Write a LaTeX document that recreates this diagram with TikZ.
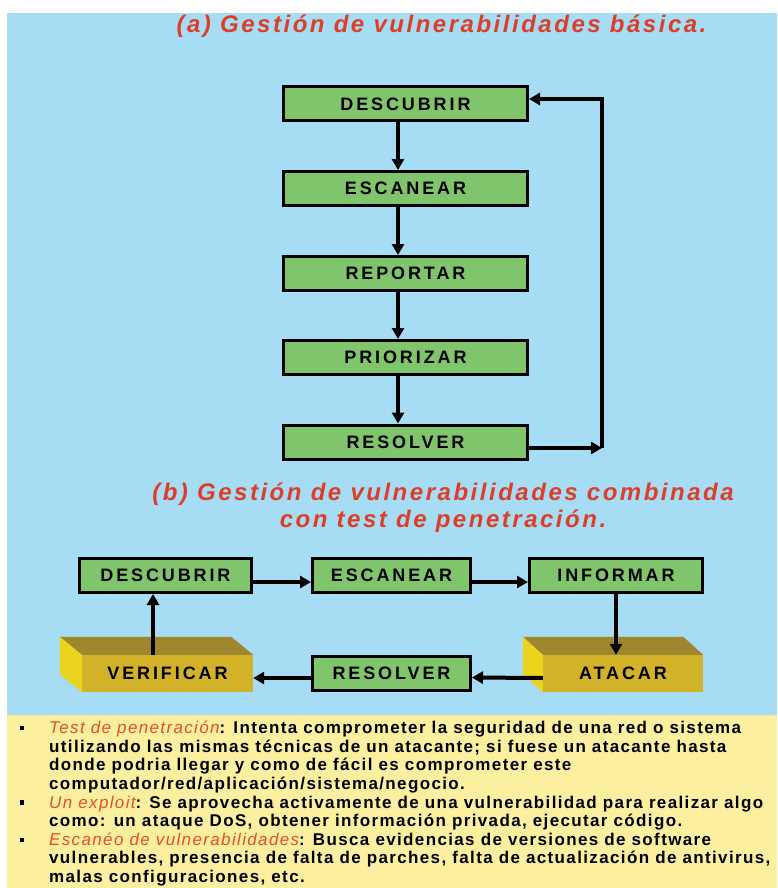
\documentclass[tikz,border=0pt]{standalone}
\usepackage{fontspec}
\setmainfont{Liberation Sans}
\usetikzlibrary{arrows.meta}
\definecolor{bgblue}{RGB}{166,220,244}
\definecolor{bgyellow}{RGB}{252,240,160}
\definecolor{boxgreen}{RGB}{128,196,108}
\definecolor{titlered}{RGB}{220,62,40}
\definecolor{notered}{RGB}{232,78,36}
\definecolor{goldfront}{RGB}{210,178,40}
\definecolor{goldtop}{RGB}{160,135,45}
\definecolor{goldleft}{RGB}{234,212,30}
\tikzset{
  gbox/.style={draw=black, line width=3pt, fill=boxgreen, minimum height=34pt, inner sep=0pt,
    font=\fontsize{18}{20}\selectfont\bfseries\addfontfeature{LetterSpace=16}},
  blockfront/.style={fill=goldfront, minimum height=37pt, inner sep=0pt,
    font=\fontsize{18}{20}\selectfont\bfseries\addfontfeature{LetterSpace=16}},
  arr/.style={line width=4pt, -{Triangle[length=11pt,width=12pt]}},
  ttl/.style={text=titlered, font=\fontsize{24}{27}\selectfont\bfseries\itshape\addfontfeature{LetterSpace=10.5}, align=center},
  bul/.style={fill=black, minimum size=4.5pt, inner sep=0pt}
}
\begin{document}
\begin{tikzpicture}[x=1pt,y=-1pt]
\useasboundingbox (0,0) rectangle (777,888);
\fill[white] (0,0) rectangle (777,888);
\fill[bgblue] (7,13) rectangle (777,715);
\fill[bgyellow] (7,715) rectangle (777,888);

% (a)
\node[ttl] (ta) at (441.5,26) {(a) Gestión de vulnerabilidades básica.};
\node[gbox, minimum width=244pt] (d1) at (405.5,104) {DESCUBRIR};
\node[gbox, minimum width=244pt] (e1) at (405.5,188.5) {ESCANEAR};
\node[gbox, minimum width=244pt] (r1) at (405.5,273.5) {REPORTAR};
\node[gbox, minimum width=244pt] (p1) at (405.5,357.5) {PRIORIZAR};
\node[gbox, minimum width=244pt] (s1) at (405.5,442) {RESOLVER};
\draw[arr] ([xshift=-7.5pt]d1.south) -- ([xshift=-7.5pt]e1.north);
\draw[arr] ([xshift=-7.5pt]e1.south) -- ([xshift=-7.5pt]r1.north);
\draw[arr] ([xshift=-7.5pt]r1.south) -- ([xshift=-7.5pt]p1.north);
\draw[arr] ([xshift=-7.5pt]p1.south) -- ([xshift=-7.5pt]s1.north);
\coordinate (lr) at (602,448);
\coordinate (lt) at (602,99);
\draw[arr] (s1.east |- lr) -- (lr);
\draw[arr] (lr) -- (lt) -- (d1.east |- lt);

% (b)
\node[ttl] (tb) at (443,508) {(b) Gestión de vulnerabilidades combinada\\con test de penetración.};
\node[gbox, minimum width=172pt] (d2) at (165.5,575.5) {DESCUBRIR};
\node[gbox, minimum width=158pt] (e2) at (391.5,575.5) {ESCANEAR};
\node[gbox, minimum width=173pt] (i2) at (616,575.5) {INFORMAR};
\node[gbox, minimum width=158pt] (s2) at (391.5,673) {RESOLVER};

% 3D blocks
\node[blockfront, minimum width=171pt] (v2) at (167.5,673.5) {VERIFICAR};
\fill[goldtop] (v2.north west) -- ([shift={(-22,-18)}]v2.north west) -- ([shift={(-22,-18)}]v2.north east) -- (v2.north east) -- cycle;
\fill[goldleft] (v2.north west) -- ([shift={(-22,-18)}]v2.north west) -- ([shift={(-22,-18)}]v2.south west) -- (v2.south west) -- cycle;
\node[blockfront, minimum width=160pt] (a2) at (623,673.5) {ATACAR};
\fill[goldtop] (a2.north west) -- ([shift={(-20,-18)}]a2.north west) -- ([shift={(-20,-18)}]a2.north east) -- (a2.north east) -- cycle;
\fill[goldleft] (a2.north west) -- ([shift={(-20,-18)}]a2.north west) -- ([shift={(-20,-18)}]a2.south west) -- (a2.south west) -- cycle;

\draw[arr] ([yshift=-6.5pt]d2.east) -- ([yshift=-6.5pt]e2.west);
\draw[arr] ([yshift=-6.5pt]e2.east) -- ([yshift=-6.5pt]i2.west);
\draw[arr] (i2.south) -- (i2.south |- a2.north);
\draw[arr] ([yshift=-4.5pt]a2.west) -- ([yshift=-4.5pt]s2.east);
\draw[arr] ([yshift=-5pt]s2.west) -- ([yshift=-4.5pt]v2.east);
\draw[arr] ([xshift=-14.5pt]v2.north) -- ([xshift=-14.5pt]v2.north |- d2.south);

% notes
\node[bul] (b1) at (22,728) {};
\node[bul] (b2) at (22,802.5) {};
\node[bul] (b3) at (22,840) {};
\node[anchor=north west, inner sep=0pt, align=left,
  font=\fontsize{17}{18.6}\selectfont\bfseries\addfontfeature{LetterSpace=8}] (notes) at (49,721)
{{\color{notered}\mdseries\itshape Test de penetración}: Intenta comprometer la seguridad de una red o sistema\\
utilizando las mismas técnicas de un atacante; si fuese un atacante hasta\\
donde podria llegar y como de fácil es comprometer este\\
computador/red/aplicación/sistema/negocio.\\
{\color{notered}\mdseries\itshape Un exploit}: Se aprovecha activamente de una vulnerabilidad para realizar algo\\
como: un ataque DoS, obtener información privada, ejecutar código.\\
{\color{notered}\mdseries\itshape Escanéo de vulnerabilidades}: Busca evidencias de versiones de software\\
vulnerables, presencia de falta de parches, falta de actualización de antivirus,\\
malas configuraciones, etc.};
\end{tikzpicture}
\end{document}
